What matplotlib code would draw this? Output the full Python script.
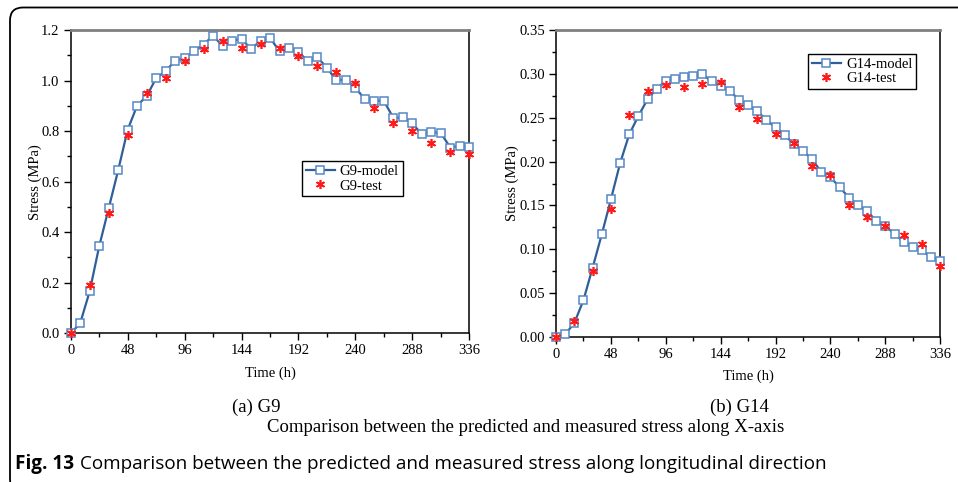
import matplotlib.pyplot as plt
from matplotlib.patches import FancyBboxPatch
from matplotlib.ticker import MultipleLocator, FormatStrFormatter

# time axis (h)
t_model = list(range(0, 337, 8))
t_test = list(range(0, 337, 16))

# G9 stress (MPa)
g9_model = [0.0, 0.04, 0.166, 0.344, 0.494, 0.645, 0.805, 0.901, 0.938, 1.009, 1.037,
            1.079, 1.088, 1.117, 1.142, 1.178, 1.136, 1.157, 1.165, 1.125, 1.157, 1.169,
            1.116, 1.130, 1.112, 1.078, 1.092, 1.050, 1.001, 1.004, 0.972, 0.925, 0.921,
            0.919, 0.852, 0.854, 0.831, 0.787, 0.797, 0.792, 0.735, 0.742, 0.736]
g9_test = [0.0, 0.191, 0.474, 0.783, 0.951, 1.012, 1.077, 1.126, 1.157, 1.129, 1.143,
           1.130, 1.096, 1.057, 1.034, 0.992, 0.892, 0.832, 0.801, 0.751, 0.719, 0.709]

# G14 stress (MPa)
g14_model = [0.0, 0.003, 0.016, 0.042, 0.079, 0.117, 0.157, 0.198, 0.231, 0.252, 0.271,
             0.283, 0.292, 0.2945, 0.297, 0.2976, 0.2995, 0.2915, 0.286, 0.281, 0.270,
             0.264, 0.258, 0.247, 0.239, 0.230, 0.220, 0.212, 0.2025, 0.188, 0.182, 0.171,
             0.159, 0.150, 0.144, 0.132, 0.126, 0.118, 0.108, 0.103, 0.099, 0.091, 0.087]
g14_test = [0.0, 0.018, 0.075, 0.146, 0.253, 0.281, 0.287, 0.285, 0.288, 0.291, 0.262,
            0.249, 0.231, 0.221, 0.195, 0.185, 0.150, 0.137, 0.126, 0.116, 0.106, 0.081]

plt.rcParams['font.family'] = ['Liberation Serif', 'DejaVu Serif']

fig = plt.figure(figsize=(9.58, 4.82), dpi=100)

# rounded frame, only left/top visible (clipped right and bottom)
frame = FancyBboxPatch((0.10, -0.10), 10.2, 4.845, boxstyle="round,pad=0,rounding_size=0.13",
                       transform=fig.dpi_scale_trans, fill=False, edgecolor="black", linewidth=1.3)
fig.patches.append(frame)

ax1 = fig.add_axes([0.0738, 0.3085, 0.4161, 0.6293])
ax2 = fig.add_axes([0.5804, 0.3008, 0.4011, 0.6369])

line_c = "#2f5e98"
mark_c = "#5588c4"
test_c = "#ff1a1a"

def draw(ax, ym, yt, name, ymax, ystep, fmt, leg_xy, ylab_x, xlab_y):
    ax.plot(t_model, ym, color=line_c, lw=1.6, marker="s", ms=5.8, mfc="white",
            mec=mark_c, mew=1.1, label=name + "-model", zorder=3, clip_on=False)
    ax.plot(t_test, yt, ls="none", marker=(6, 2, 0), ms=6.5, mec=test_c, mew=1.2,
            color=test_c, label=name + "-test", zorder=4, clip_on=False)
    ax.set_xlim(0, 336)
    ax.set_ylim(0, ymax)
    ax.xaxis.set_major_locator(MultipleLocator(48))
    ax.xaxis.set_minor_locator(MultipleLocator(24))
    ax.yaxis.set_major_locator(MultipleLocator(ystep))
    ax.yaxis.set_minor_locator(MultipleLocator(ystep / 2))
    ax.yaxis.set_major_formatter(FormatStrFormatter(fmt))
    ax.tick_params(which="major", direction="out", length=5, width=1, labelsize=10.5, pad=3,
                   top=False, right=False)
    ax.tick_params(which="minor", direction="out", length=3, width=1, top=False, right=False)
    ax.spines["top"].set_color("#808080")
    ax.spines["top"].set_linewidth(2)
    for s in ["left", "bottom", "right"]:
        ax.spines[s].set_linewidth(1.1)
    ax.set_xlabel("Time (h)", fontsize=10.5)
    ax.set_ylabel("Stress (MPa)", fontsize=10.5)
    ax.xaxis.set_label_coords(0.5, xlab_y)
    ax.yaxis.set_label_coords(ylab_x, 0.5)
    leg = ax.legend(loc="upper left", bbox_to_anchor=leg_xy, borderaxespad=0, fontsize=10.5,
                    fancybox=False, edgecolor="black", framealpha=1, handlelength=2.0,
                    handletextpad=0.35, borderpad=0.25, labelspacing=0.1)
    leg.get_frame().set_linewidth(1.0)

draw(ax1, g9_model, g9_test, "G9", 1.2, 0.2, "%.1f", (0.580, 0.568), -0.073, -0.111)
draw(ax2, g14_model, g14_test, "G14", 0.35, 0.05, "%.2f", (0.656, 0.922), -0.0955, -0.107)

fig.text(256 / 958, 1 - 407 / 482, "(a) G9", ha="center", va="center", fontsize=13.5)
fig.text(739 / 958, 1 - 407 / 482, "(b) G14", ha="center", va="center", fontsize=13.5)
fig.text(526 / 958, 1 - 428 / 482, "Comparison between the predicted and measured stress along X-axis",
         ha="center", va="center", fontsize=13.5)

fig.text(15 / 958, 1 - 464 / 482, "Fig. 13", ha="left", va="center", fontsize=13.6,
         family=["Open Sans", "DejaVu Sans"], fontweight="bold")
fig.text(80 / 958, 1 - 464 / 482, "Comparison between the predicted and measured stress along longitudinal direction",
         ha="left", va="center", fontsize=13.6, family=["Open Sans", "DejaVu Sans"])

fig.savefig("out.png", dpi=100)
